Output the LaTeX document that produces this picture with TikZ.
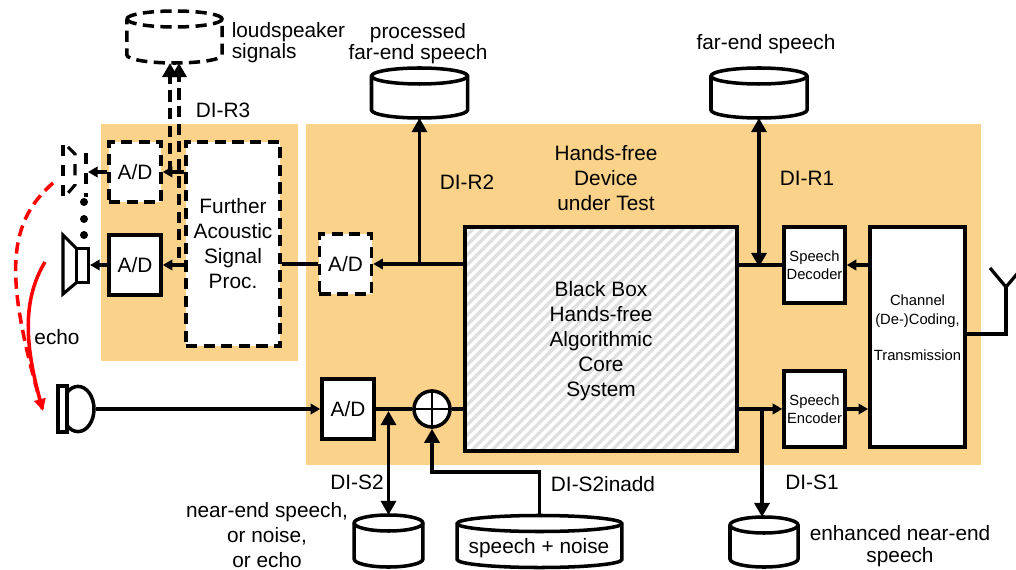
\documentclass[tikz,border=0pt]{standalone}
\usepackage{fontspec}
\setmainfont{Liberation Sans}
\usepackage{xcolor}
\usetikzlibrary{arrows.meta,positioning,shapes.geometric}
\definecolor{devbg}{HTML}{FBD28A}
\newcommand{\lblfont}{\fontsize{14.8}{17.8}\selectfont}
\newcommand{\smallfont}{\fontsize{10.5}{13}\selectfont}
% drum: [extra style]{name}{x}{y}{width}{height}
\newcommand{\drum}[6][]{%
  \node[minimum width=#5, minimum height=#6, inner sep=0pt, outer sep=0pt] (#2) at (#3,#4) {};
  \draw[fill=white, #1] ([yshift=-2mm]#2.north west)
    arc[start angle=180, end angle=0, x radius=#5/2, y radius=2mm]
    -- ([yshift=2mm]#2.south east)
    arc[start angle=0, end angle=-180, x radius=#5/2, y radius=2mm] -- cycle;
  \draw[#1] ([yshift=-2mm]#2.north west)
    arc[start angle=180, end angle=360, x radius=#5/2, y radius=2mm];
}

\begin{document}
\begin{tikzpicture}[
  x=0.025cm, y=-0.025cm,
  line width=2.5pt,
  big/.style={-{Triangle[length=3.5mm, width=3.7mm]}},
  bigboth/.style={{Triangle[length=3.5mm, width=3.7mm]}-{Triangle[length=3.5mm, width=3.7mm]}},
  tiny/.style={-{Triangle[length=2.4mm, width=2.6mm]}},
  dashline/.style={dash pattern=on 2.8mm off 1.6mm},
  spkdashes/.style={line width=2.2pt, dash pattern=on 2.8mm off 2.2mm},
  block/.style={draw, fill=white, font=\lblfont, align=center, inner sep=0pt},
  adbox/.style={block, minimum width=13mm, minimum height=15mm},
  codec/.style={block, font=\smallfont, minimum width=15.2mm, minimum height=19mm},
  label/.style={font=\lblfont, align=center, inner sep=0pt},
  dot/.style={fill, circle, minimum size=2mm, inner sep=0pt},
]
\useasboundingbox (0,0) rectangle (1016,570);

% === Device backgrounds ===
\fill[devbg] (101,124) rectangle (298,361);
\fill[devbg] (306,124) rectangle (981,465);

% === Blocks ===
\node[adbox, dashline] (adtop) at (135,172) {A/D};
\node[adbox] (adspk) at (135,265) {A/D};
\node[block, dashline, minimum width=23.5mm, minimum height=51mm] (further) at (233,244)
  {Further\\Acoustic\\Signal\\Proc.};
\node[adbox, dashline] (adref) at (345.5,264) {A/D};
\node[adbox] (admic) at (348,409) {A/D};
\node[draw, circle, fill=white, minimum size=9mm, inner sep=0pt] (sum) at (432,409) {};
\draw[line width=2pt] (sum.north) -- (sum.south) (sum.west) -- (sum.east);

% core box: stripes clipped to the node, outline on top
\node[fill=white, minimum width=68mm, minimum height=56mm, inner sep=0pt, outer sep=0pt] (core) at (601,339) {};
\begin{scope}
  \clip (core.south west) rectangle (core.north east);
  \foreach \k in {0,10,...,500} {
    \draw[gray!25, line width=0.8mm] (241+\k,451) -- (465+\k,227);
  }
\end{scope}
\draw (core.south west) rectangle (core.north east);
\node[label] (lblcore) at (601,341) {Black Box\\Hands-free\\Algorithmic\\Core\\System};

\node[codec] (decoder) at (814.5,265) {Speech\\Decoder};
\node[codec] (encoder) at (814.5,409) {Speech\\Encoder};
\node[block, font=\smallfont, minimum width=23.8mm, minimum height=55mm] (channel) at (917.5,337)
  {Channel\\(De-)Coding,\\\\Transmission\\~};

% === Data stores ===
\drum[dashline]{spkstore}{174.5}{37}{23.8mm}{13mm}
\drum{procstore}{419.5}{93}{24mm}{12.5mm}
\drum{farstore}{759}{93}{24mm}{12.5mm}
\drum{nearstore}{388.5}{541}{17.2mm}{13mm}
\drum{mixstore}{539.5}{541.5}{41.2mm}{13mm}
\drum{enhstore}{764}{542}{17mm}{12.5mm}
\node[label] (lblmix) at (539,548) {speech + noise};

% === Loudspeakers and microphone ===
\draw[spkdashes] (63,145) -- (63,198);
\draw[spkdashes] (68,147) -- (75,154) -- (75,185) -- (68,193);
\draw[spkdashes] (86,153) -- (86,197);
\node[dot] (dota) at (84,202) {};
\node[dot] (dotb) at (84,219) {};
\node[dot] (dotc) at (84,235) {};
\draw[line width=2.2pt] (76,248) -- (63,235) -- (63,294) -- (76,283);
\node[draw, line width=2.2pt, minimum width=3mm, minimum height=8.6mm, inner sep=0pt] (spkcoil) at (82.5,265.5) {};
\coordinate (spkdash) at (88,172);

\node[draw, ellipse, minimum width=8mm, minimum height=11.3mm, inner sep=0pt] (micbody) at (78,409) {};
\node[draw, fill=white, minimum width=2.3mm, minimum height=11.5mm, inner sep=0pt] (micplate) at (62.5,409) {};

% === Signal paths, left ===
\draw[tiny] (adtop.west) -- (spkdash);
\draw[tiny] (adspk.west) -- (spkcoil.east |- adspk.west);
\draw[tiny] (further.west |- adtop.east) -- (adtop.east);
\draw[tiny] (further.west |- adspk.east) -- (adspk.east);
\draw (further.east |- adref.west) -- (adref.west);
\coordinate (tapl) at (170,172);
\coordinate (tapr) at (179,258);
\draw[big, dashline] (tapl) -- (tapl |- spkstore.south);
\draw[big, dashline] (tapr) -- (tapr |- spkstore.south);

% === Signal paths, centre ===
\draw[tiny] (adref.east -| core.west) -- (adref.east);
\coordinate (tapproc) at (419.5,264);
\draw[big] (tapproc) -- (procstore.south);
\draw[tiny] (micbody.east) -- (admic.west);
\draw (admic.east) -- (sum.west);
\draw (sum.east) -- (sum.east -| core.west);
\coordinate (tapnear) at (388.5,411);
\draw[bigboth] (tapnear) -- (nearstore.north);
\coordinate (mixbend) at (539.5,472);
\draw[big] (mixstore.north) -- (mixbend) -- (mixbend -| sum.south) -- (sum.south);

% === Signal paths, right ===
\draw (decoder.west -| core.east) -- (decoder.west);
\coordinate (tapfar) at (759,267);
\draw[bigboth] (farstore.south) -- (tapfar);
\draw[tiny] (channel.west |- decoder.east) -- (decoder.east);
\draw[tiny] (encoder.west -| core.east) -- (encoder.west);
\draw[tiny] (encoder.east) -- (encoder.east -| channel.west);
\coordinate (tapenh) at (762,409);
\draw[big] (tapenh) -- (tapenh |- enhstore.north);

% === Antenna ===
\coordinate (antfoot) at (1006,334);
\coordinate (antjoin) at (1006,287);
\draw[line width=2.3pt] (channel.east |- antfoot) -- (antfoot) -- (antjoin);
\draw[line width=2.3pt] (990,268) -- (antjoin) -- (1022,268);

% === Echo ===
\coordinate (echoend) at (43,411);
\coordinate (echoa) at (53,183);
\coordinate (echob) at (45,262);
\draw[red, dashline] (echoa) .. controls (5,225) and (5,280) .. (echoend);
\draw[red, -{Triangle[length=3mm, width=2.8mm]}] (echob) .. controls (22,300) and (25,345) .. (echoend);

% === Labels ===
\node[label, align=left, anchor=west] (lblspk) at (230,43) {loudspeaker\\[-2.8pt]signals};
\node[label] (lblproc) at (418,44) {processed\\[-2.8pt]far-end speech};
\node[label] (lblfar) at (766,44) {far-end speech};
\node[label] (lblrthree) at (223,110) {DI-R3};
\node[label] (lblrtwo) at (467,182) {DI-R2};
\node[label] (lblrone) at (807,178) {DI-R1};
\node[label] (lbldevice) at (606,178) {Hands-free\\Device\\under Test};
\node[label] (lblecho) at (57,337) {echo};
\node[label] (lblstwo) at (357,482) {DI-S2};
\node[label] (lblnear) at (267,535) {near-end speech,\\or noise,\\or echo};
\node[label] (lblinadd) at (603,484) {DI-S2inadd};
\node[label] (lblsone) at (812,482) {DI-S1};
\node[label] (lblenh) at (900,546) {enhanced near-end\\[-2pt]speech};

\end{tikzpicture}
\end{document}
